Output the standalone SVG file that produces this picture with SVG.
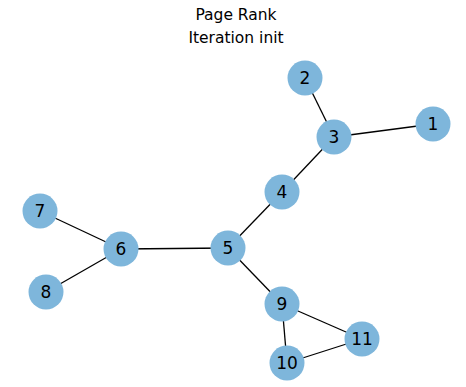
<svg xmlns="http://www.w3.org/2000/svg" width="466" height="387" viewBox="0 0 466 387">
<style>
.edge{stroke:#000;stroke-width:1.3;fill:none}
.node circle{fill:#7eb6db}
.node text{font-family:"DejaVu Sans",sans-serif;font-size:17px;text-anchor:middle;dominant-baseline:central;fill:#000}
.title{font-family:"DejaVu Sans",sans-serif;font-size:15.5px;text-anchor:middle;fill:#000}
</style>
<rect width="466" height="387" fill="#fff"/>
<text class="title" x="236" y="20">Page Rank</text>
<text class="title" x="236" y="43">Iteration init</text>
<g id="edges">
<line class="edge" x1="305" y1="78" x2="334" y2="137"/>
<line class="edge" x1="433" y1="124" x2="334" y2="137"/>
<line class="edge" x1="334" y1="137" x2="282" y2="192"/>
<line class="edge" x1="282" y1="192" x2="228" y2="248"/>
<line class="edge" x1="228" y1="248" x2="121" y2="249"/>
<line class="edge" x1="121" y1="249" x2="40" y2="211"/>
<line class="edge" x1="121" y1="249" x2="46" y2="292"/>
<line class="edge" x1="228" y1="248" x2="282" y2="304"/>
<line class="edge" x1="282" y1="304" x2="287" y2="363"/>
<line class="edge" x1="282" y1="304" x2="362" y2="339"/>
<line class="edge" x1="287" y1="363" x2="362" y2="339"/>
</g>
<g id="n1" class="node"><circle cx="433" cy="124" r="17.5"/><text x="433" y="124">1</text></g>
<g id="n2" class="node"><circle cx="305" cy="78" r="17.5"/><text x="305" y="78">2</text></g>
<g id="n3" class="node"><circle cx="334" cy="137" r="17.5"/><text x="334" y="137">3</text></g>
<g id="n4" class="node"><circle cx="282" cy="192" r="17.5"/><text x="282" y="192">4</text></g>
<g id="n5" class="node"><circle cx="228" cy="248" r="17.5"/><text x="228" y="248">5</text></g>
<g id="n6" class="node"><circle cx="121" cy="249" r="17.5"/><text x="121" y="249">6</text></g>
<g id="n7" class="node"><circle cx="40" cy="211" r="17.5"/><text x="40" y="211">7</text></g>
<g id="n8" class="node"><circle cx="46" cy="292" r="17.5"/><text x="46" y="292">8</text></g>
<g id="n9" class="node"><circle cx="282" cy="304" r="17.5"/><text x="282" y="304">9</text></g>
<g id="n10" class="node"><circle cx="287" cy="363" r="17.5"/><text x="287" y="363">10</text></g>
<g id="n11" class="node"><circle cx="362" cy="339" r="17.5"/><text x="362" y="339">11</text></g>
</svg>
